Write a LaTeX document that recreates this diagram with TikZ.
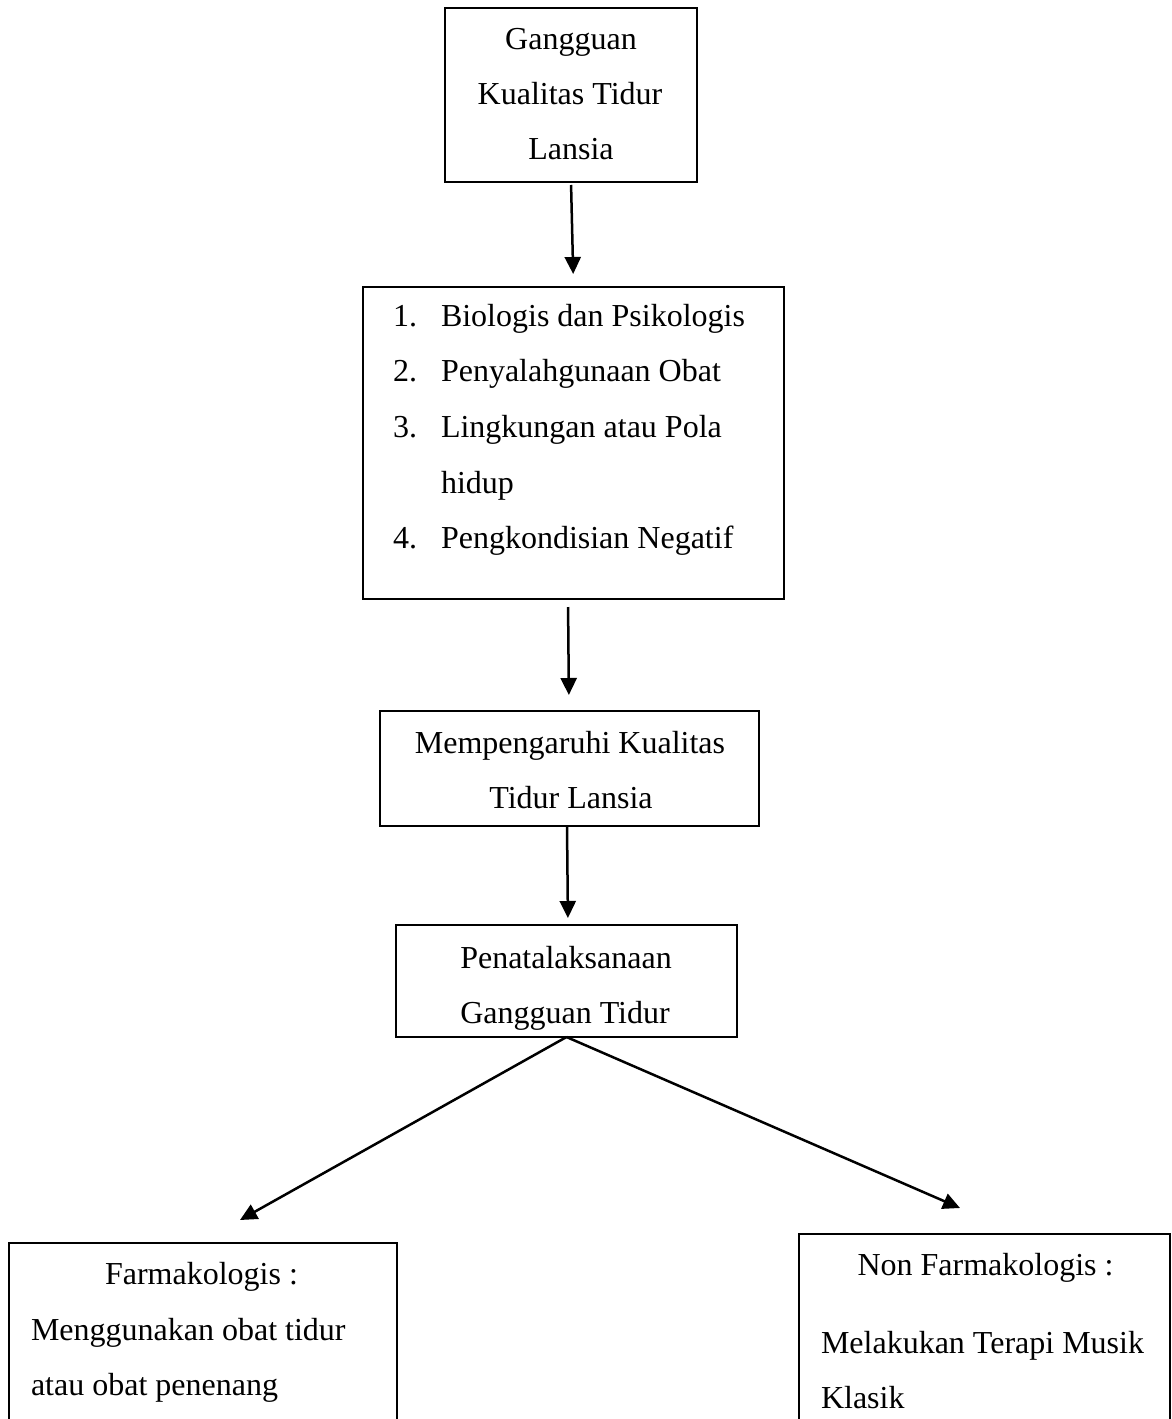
\documentclass[tikz,border=0pt]{standalone}
\usepackage{fontspec}
\setmainfont{Liberation Serif}
\usetikzlibrary{arrows.meta}
\begin{document}
\tikzset{
  box/.style={draw, line width=2.5pt, rectangle, inner sep=0pt, outer sep=0pt},
  txt/.style={inner sep=0pt, outer sep=0pt, anchor=base, font=\fontsize{32}{55}\selectfont},
  txtl/.style={txt, anchor=base west},
  arr/.style={line width=2.5pt, -{Triangle[length=17pt,width=16pt]}}
}
\begin{tikzpicture}[x=1pt,y=-1pt]
\useasboundingbox (0,0) rectangle (1172,1419);
\clip (0,0) rectangle (1172,1419);
% box 1
\node[box, minimum width=252pt, minimum height=174pt] (b1) at (571,95) {};
\node[txt] (t1a) at (571,49) {Gangguan};
\node[txt] (t1b) at (570,104) {Kualitas Tidur};
\node[txt] (t1c) at (571,159) {Lansia};
% box 2
\node[box, minimum width=421pt, minimum height=312pt] (b2) at (573.5,443) {};
\node[txtl] (n1) at (393,326) {1.};
\node[txtl] (l1) at (441,326) {Biologis dan Psikologis};
\node[txtl] (n2) at (393,381) {2.};
\node[txtl] (l2) at (441,381) {Penyalahgunaan Obat};
\node[txtl] (n3) at (393,437) {3.};
\node[txtl] (l3) at (441,437) {Lingkungan atau Pola};
\node[txtl] (l3b) at (441,493) {hidup};
\node[txtl] (n4) at (393,548) {4.};
\node[txtl] (l4) at (441,548) {Pengkondisian Negatif};
% box 3
\node[box, minimum width=379pt, minimum height=115pt] (b3) at (569.5,768.5) {};
\node[txt] (t3a) at (570,753) {Mempengaruhi Kualitas};
\node[txt] (t3b) at (571,808) {Tidur Lansia};
% box 4
\node[box, minimum width=341pt, minimum height=112pt] (b4) at (566.5,981) {};
\node[txt] (t4a) at (566,968) {Penatalaksanaan};
\node[txt] (t4b) at (565,1023) {Gangguan Tidur};
% left box
\node[box, minimum width=388pt, minimum height=300pt] (lb) at (203,1393) {};
\node[txt] (tla) at (201.5,1284) {Farmakologis :};
\node[txtl] (tlb) at (31,1340) {Menggunakan obat tidur};
\node[txtl] (tlc) at (31,1395) {atau obat penenang};
% right box
\node[box, minimum width=371pt, minimum height=300pt] (rb) at (984.5,1384) {};
\node[txt] (tra) at (985.5,1275) {Non Farmakologis :};
\node[txtl] (trb) at (821,1353) {Melakukan Terapi Musik};
\node[txtl] (trc) at (821,1408) {Klasik};
% connectors
\coordinate (lt) at (240,1220);
\coordinate (rt) at (960,1208);
\draw[arr, shorten <=3pt, shorten >=13pt] (b1.south) -- (b2.north);
\draw[arr, shorten <=8pt, shorten >=16pt] ([xshift=-5.5pt]b2.south) -- ([xshift=-0.5pt]b3.north);
\draw[arr, shorten <=1pt, shorten >=7pt] ([xshift=-2.5pt]b3.south) -- ([xshift=1.5pt]b4.north);
\draw[arr] (b4.south) -- (lt);
\draw[arr] (b4.south) -- (rt);
\end{tikzpicture}
\end{document}
